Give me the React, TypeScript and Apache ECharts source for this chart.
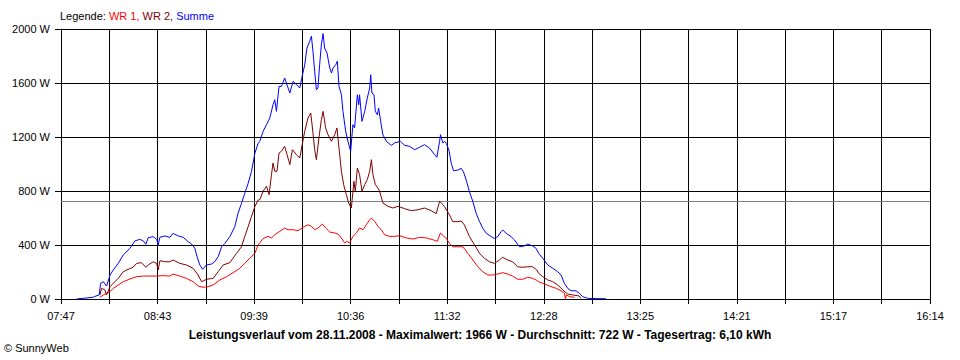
import { useEffect, useRef } from "react";
import * as echarts from "echarts";

// ---- data (times are minutes after 07:47) ----
const timeLabels = ["07:47", "08:43", "09:39", "10:36", "11:32", "12:28", "13:25", "14:21", "15:17", "16:14"];
const spanMinutes = 507; // 07:47 -> 16:14
const xSteps = 18;
const yMax = 2000;
const yStep = 400;
const average = 722;
const seriesNames = ["WR 1", "WR 2", "Summe"];
const seriesColors = ["#ff0000", "#800000", "#0000ff"];

const sumTimes = [9.1, 18.8, 20.4, 22.3, 23.1, 24.7, 26.6, 28.6, 30.5, 33.4, 36.3, 40.2, 43.1, 46.0, 48.0, 49.5, 50.9, 53.8, 55.8, 56.7, 57.7, 60.6, 63.5, 65.4, 68.4, 71.3, 74.2, 76.2, 78.1, 79.4, 81.0, 82.6, 84.9, 87.8, 89.7, 91.7, 93.7, 95.6, 98.5, 101.4, 103.3, 105.3, 107.2, 109.2, 111.1, 113.1, 115.0, 116.0, 117.9, 119.9, 121.8, 123.7, 124.7, 125.7, 127.2, 128.6, 130.5, 131.5, 133.5, 135.4, 137.4, 139.3, 140.9, 142.2, 143.5, 145.1, 146.1, 147.0, 148.0, 149.0, 149.9, 150.9, 151.9, 152.9, 153.8, 155.2, 156.8, 157.8, 158.7, 160.3, 161.2, 162.2, 163.6, 164.5, 166.1, 167.4, 169.0, 170.3, 171.3, 172.9, 173.7, 174.2, 175.6, 177.2, 178.7, 180.1, 180.7, 181.4, 182.6, 183.4, 184.6, 185.3, 186.5, 187.8, 189.8, 192.7, 194.6, 198.1, 200.5, 203.4, 206.3, 209.2, 212.1, 215.0, 218.0, 219.3, 220.9, 221.4, 222.8, 223.8, 224.8, 226.3, 227.7, 229.0, 231.5, 233.5, 234.8, 236.4, 238.3, 240.3, 242.2, 244.2, 246.1, 248.1, 251.0, 252.9, 254.8, 256.8, 257.7, 259.7, 262.6, 264.6, 267.5, 270.4, 272.3, 275.2, 277.2, 278.7, 281.1, 284.0, 286.9, 289.8, 291.8, 293.7, 295.6, 297.6, 300.5, 302.4, 304.4, 307.3, 312.2, 318.0];
const sumValues = [0, 13, 22, 30, 116, 128, 96, 178, 215, 264, 326, 375, 430, 442, 430, 405, 454, 462, 442, 400, 457, 467, 457, 486, 467, 457, 424, 407, 375, 313, 252, 220, 252, 259, 276, 313, 387, 412, 462, 536, 635, 709, 783, 857, 943, 1079, 1153, 1168, 1242, 1291, 1341, 1439, 1476, 1390, 1575, 1575, 1637, 1600, 1526, 1612, 1588, 1563, 1661, 1735, 1859, 1909, 1946, 1835, 1687, 1550, 1563, 1735, 1883, 1966, 1859, 1822, 1711, 1674, 1711, 1735, 1761, 1575, 1513, 1390, 1242, 1168, 1094, 1291, 1267, 1513, 1439, 1513, 1316, 1390, 1489, 1563, 1661, 1526, 1513, 1390, 1365, 1415, 1316, 1217, 1168, 1138, 1156, 1168, 1138, 1131, 1106, 1124, 1143, 1118, 1069, 1050, 1168, 1217, 1156, 1168, 1153, 1104, 1005, 950, 955, 968, 943, 881, 795, 721, 635, 573, 524, 487, 462, 449, 462, 499, 511, 487, 462, 437, 387, 393, 407, 393, 375, 338, 301, 252, 227, 202, 178, 116, 79, 61, 61, 42, 17, 5, 3, 2];

const wr2Times = [22.7, 23.7, 25.6, 26.6, 28.6, 30.5, 33.4, 36.3, 39.2, 42.1, 44.1, 47.0, 49.5, 50.9, 53.8, 55.8, 56.7, 57.7, 60.6, 63.5, 65.4, 69.3, 73.2, 77.1, 80.0, 82.0, 84.9, 88.8, 91.7, 94.6, 98.5, 102.4, 105.3, 107.2, 109.2, 111.1, 113.1, 115.0, 116.0, 117.9, 119.9, 121.4, 122.8, 123.7, 124.7, 126.0, 127.2, 128.6, 130.5, 131.9, 133.5, 135.0, 137.4, 139.3, 140.9, 142.2, 144.1, 145.7, 146.7, 148.0, 149.0, 150.5, 151.9, 152.9, 154.4, 155.8, 157.8, 159.7, 161.0, 162.2, 163.6, 164.9, 166.5, 167.8, 169.4, 170.9, 171.7, 172.9, 174.2, 175.6, 177.2, 178.7, 180.1, 181.1, 182.0, 183.4, 184.9, 185.9, 187.8, 190.7, 193.6, 196.6, 200.5, 204.4, 208.2, 212.1, 216.0, 218.9, 220.9, 222.8, 223.8, 226.7, 228.6, 231.5, 233.5, 235.4, 238.3, 241.3, 244.2, 247.1, 250.0, 252.9, 255.8, 257.7, 260.6, 263.5, 266.4, 269.3, 272.3, 275.2, 277.6, 278.7, 281.1, 284.0, 286.9, 289.8, 292.8, 295.6, 298.5, 302.4, 303.4];
const wr2Values = [30, 79, 67, 30, 91, 116, 153, 202, 220, 235, 264, 269, 235, 252, 276, 264, 215, 284, 276, 276, 289, 264, 252, 227, 178, 128, 146, 153, 202, 252, 269, 338, 387, 462, 536, 610, 684, 733, 736, 798, 835, 773, 921, 1007, 946, 946, 1081, 1094, 1131, 1069, 995, 1106, 1069, 1044, 1156, 1242, 1341, 1378, 1267, 1106, 1032, 1193, 1328, 1390, 1267, 1217, 1168, 1217, 1267, 1118, 946, 847, 773, 711, 674, 872, 798, 970, 921, 798, 847, 884, 946, 1032, 921, 847, 822, 798, 711, 687, 674, 687, 669, 654, 661, 674, 654, 632, 724, 699, 684, 622, 573, 573, 578, 548, 462, 400, 338, 301, 276, 264, 289, 309, 289, 276, 239, 235, 239, 239, 215, 190, 165, 141, 128, 104, 67, 37, 30, 22, 5];

const wr1Times = [22.7, 24.7, 26.6, 28.6, 30.5, 33.4, 36.3, 40.2, 44.1, 48.0, 51.9, 55.8, 59.6, 63.5, 65.4, 69.3, 73.2, 77.1, 80.0, 82.9, 85.8, 88.8, 92.7, 96.6, 100.4, 104.3, 107.2, 110.1, 113.1, 115.0, 117.9, 120.8, 122.8, 124.7, 127.6, 130.5, 132.5, 135.4, 138.3, 141.2, 144.1, 146.1, 148.0, 149.9, 152.5, 154.4, 156.8, 159.7, 161.6, 163.6, 165.5, 166.8, 168.4, 170.3, 172.3, 174.2, 176.2, 178.1, 180.1, 181.1, 183.0, 184.9, 186.9, 188.8, 191.7, 194.6, 197.6, 201.5, 205.4, 209.2, 213.1, 217.0, 219.5, 221.4, 223.4, 224.8, 226.7, 228.6, 231.5, 234.5, 237.4, 240.3, 243.2, 246.1, 249.0, 251.9, 254.8, 257.7, 260.6, 263.5, 266.4, 269.3, 272.3, 275.2, 277.2, 278.7, 281.1, 285.0, 288.9, 291.8, 293.7, 294.3, 294.9, 296.7, 299.6];
const wr1Values = [13, 30, 42, 54, 79, 104, 128, 148, 165, 170, 170, 170, 173, 170, 185, 170, 153, 128, 96, 87, 91, 104, 141, 165, 195, 227, 264, 301, 338, 400, 447, 464, 452, 476, 501, 526, 513, 513, 506, 531, 550, 538, 513, 526, 555, 526, 496, 489, 481, 452, 415, 427, 415, 464, 489, 526, 513, 550, 587, 600, 575, 538, 513, 476, 464, 464, 469, 452, 444, 457, 452, 439, 427, 489, 464, 449, 412, 387, 387, 387, 338, 289, 239, 202, 178, 178, 185, 195, 185, 170, 146, 146, 161, 153, 141, 128, 116, 96, 79, 61, 42, 2, 30, 17, 13];

const titleText = "Leistungsverlauf vom 28.11.2008 - Maximalwert: 1966 W - Durchschnitt: 722 W - Tagesertrag: 6,10 kWh";
const copyrightText = "© SunnyWeb";

const FONT = "'Liberation Sans', Arial, sans-serif";

function toPairs(times: number[], values: number[]) {
  return times.map((t, i) => [(t / spanMinutes) * xSteps, values[i]]);
}

export default function App() {
  const ref = useRef<HTMLDivElement>(null);

  useEffect(() => {
    if (!ref.current) return;
    const chart = echarts.init(ref.current, null, { renderer: "svg" });
    const seriesData = [toPairs(wr1Times, wr1Values), toPairs(wr2Times, wr2Values), toPairs(sumTimes, sumValues)];

    chart.setOption({
      animation: false,
      backgroundColor: "#ffffff",
      textStyle: { fontFamily: FONT },
      grid: { left: 61, right: 30, top: 29, bottom: 61, containLabel: false },
      xAxis: {
        type: "value",
        min: 0,
        max: xSteps,
        interval: 1,
        axisLine: { show: true, lineStyle: { color: "#000", width: 1 } },
        axisTick: { show: true, length: 5, lineStyle: { color: "#000" } },
        splitLine: { show: true, lineStyle: { color: "#000", width: 1 } },
        axisLabel: {
          color: "#000",
          fontSize: 11,
          fontFamily: FONT,
          margin: 11,
          formatter: (v: number) => {
            const i = Math.round(v);
            return i % 2 === 0 ? timeLabels[i / 2] ?? "" : "";
          },
        },
      },
      yAxis: {
        type: "value",
        min: 0,
        max: yMax,
        interval: yStep,
        axisLine: { show: true, lineStyle: { color: "#000", width: 1 } },
        axisTick: { show: true, length: 6, lineStyle: { color: "#000" } },
        splitLine: { show: true, lineStyle: { color: "#000", width: 1 } },
        axisLabel: {
          color: "#000",
          fontSize: 11,
          fontFamily: FONT,
          margin: 11,
          formatter: (v: number) => `${v} W`,
        },
      },
      graphic: [
        {
          type: "text",
          left: 60,
          top: 10,
          style: {
            text: `{k|Legende: }{a|${seriesNames[0]}, }{b|${seriesNames[1]}, }{c|${seriesNames[2]}}`,
            font: `11px ${FONT}`,
            rich: {
              k: { fill: "#000", fontSize: 11, fontFamily: FONT },
              a: { fill: seriesColors[0], fontSize: 11, fontFamily: FONT },
              b: { fill: seriesColors[1], fontSize: 11, fontFamily: FONT },
              c: { fill: seriesColors[2], fontSize: 11, fontFamily: FONT },
            },
          },
        },
        {
          type: "text",
          left: "center",
          top: 329,
          style: {
            text: titleText,
            fill: "#000",
            font: `bold 12px ${FONT}`,
          },
        },
        {
          type: "text",
          left: 4,
          top: 342,
          style: { text: copyrightText, fill: "#000", font: `11px ${FONT}` },
        },
      ],
      series: [
        {
          name: seriesNames[0],
          type: "line",
          data: seriesData[0],
          showSymbol: false,
          lineStyle: { color: seriesColors[0], width: 1 },
          itemStyle: { color: seriesColors[0] },
          z: 3,
        },
        {
          name: seriesNames[1],
          type: "line",
          data: seriesData[1],
          showSymbol: false,
          lineStyle: { color: seriesColors[1], width: 1 },
          itemStyle: { color: seriesColors[1] },
          z: 4,
        },
        {
          name: seriesNames[2],
          type: "line",
          data: seriesData[2],
          showSymbol: false,
          lineStyle: { color: seriesColors[2], width: 1 },
          itemStyle: { color: seriesColors[2] },
          z: 5,
          markLine: {
            silent: true,
            symbol: "none",
            label: { show: false },
            lineStyle: { color: "#808080", width: 1, type: "solid" },
            data: [{ yAxis: average }],
            z: 2,
          },
        },
      ],
    });

    return () => chart.dispose();
  }, []);

  return (
    <div
      ref={ref}
      style={{ position: "absolute", left: 0, top: 0, width: 960, height: 360 }}
    />
  );
}
